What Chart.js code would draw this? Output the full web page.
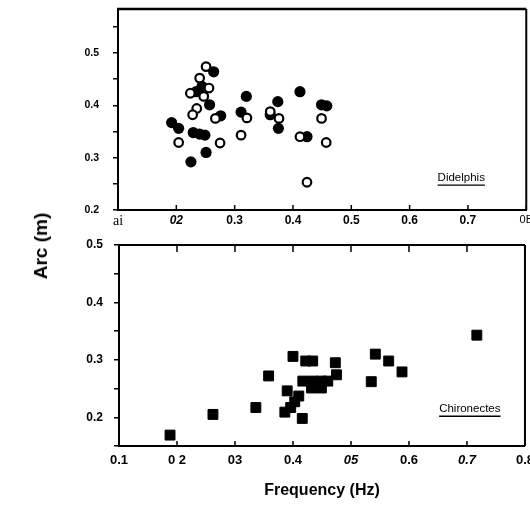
<!DOCTYPE html>
<html><head><meta charset="utf-8">
<script src="https://cdn.jsdelivr.net/npm/chart.js@4"></script>
<style>
html,body{margin:0;padding:0;background:#fff;}
#wrap{position:relative;width:530px;height:508px;overflow:hidden;}
#top{position:absolute;left:0;top:0;}
#bot{position:absolute;left:0;top:232px;}
#ylab{position:absolute;left:41px;top:246px;transform:translate(-50%,-50%) rotate(-90deg);
  font:bold 19px "Liberation Sans",Arial,sans-serif;white-space:nowrap;color:#000;}
</style></head>
<body><div id="wrap">
<!-- canvases are a bit wider than the window: the last tick label's overhang eats the extra -->
<canvas id="top" width="536" height="232"></canvas>
<canvas id="bot" width="541" height="276"></canvas>
<div id="ylab">Arc (m)</div>
</div>
<script>
// Didelphis - filled / open circles
const didFillX = [0.264,0.234,0.244,0.257,0.276,0.320,0.311,0.192,0.204,0.229,0.240,0.249,0.251,0.225,0.412,0.374,0.361,0.375,0.449,0.458,0.424];
const didFillY = [0.464,0.426,0.436,0.401,0.380,0.417,0.387,0.367,0.356,0.348,0.345,0.343,0.310,0.292,0.426,0.407,0.382,0.356,0.401,0.399,0.340];
const didOpenX = [0.251,0.240,0.224,0.256,0.247,0.235,0.228,0.267,0.321,0.311,0.204,0.275,0.361,0.376,0.412,0.449,0.457,0.424];
const didOpenY = [0.474,0.452,0.423,0.433,0.417,0.394,0.382,0.375,0.376,0.343,0.329,0.328,0.388,0.375,0.340,0.375,0.329,0.253];
// Chironectes - squares
const chiX = [0.188,0.262,0.336,0.358,0.400,0.390,0.386,0.396,0.403,0.410,0.416,0.422,0.434,0.417,0.434,0.449,0.460,0.432,0.449,0.473,0.475,0.535,0.542,0.565,0.588,0.717];
const chiY = [0.169,0.205,0.217,0.272,0.306,0.246,0.209,0.217,0.227,0.237,0.198,0.298,0.298,0.263,0.263,0.263,0.263,0.251,0.251,0.295,0.274,0.262,0.310,0.298,0.279,0.343];

// ticks
const xTicks = [0.1,0.2,0.3,0.4,0.5,0.6,0.7,0.8];
const topXLabels = ["ai","02","0.3","0.4","0.5","0.6","0.7","0B"];
const botXLabels = ["0.1","0 2","03","0.4","05","0.6","0.7","0.8"];
const topYTicks = [0.2,0.25,0.3,0.35,0.4,0.45,0.5,0.55];
const topYLabels = ["0.2","","0.3","","0.4","","0.5",""];
const botYTicks = [0.15,0.2,0.25,0.3,0.35,0.4,0.45,0.5];
const botYLabels = ["","0.2","","0.3","","0.4","","0.5"];

const SANS = '"Liberation Sans", Arial, sans-serif';
const pts = (xs,ys)=>xs.map((x,i)=>({x, y:ys[i]}));

// inner x ticks, frame top/right, species label
const frame = {
  id:"frame",
  afterDraw(chart, args, o){
    const {ctx, chartArea:a, scales:{x}} = chart;
    ctx.save();
    ctx.strokeStyle="#000"; ctx.lineWidth=1.5;
    ctx.beginPath();
    x.ticks.forEach(t=>{
      const px = x.getPixelForValue(t.value);
      ctx.moveTo(px, a.bottom); ctx.lineTo(px, a.bottom-5);
      if(o.topTicks){ ctx.moveTo(px, a.top); ctx.lineTo(px, a.top+7); }
    });
    ctx.stroke();
    ctx.lineWidth = o.topWidth;
    ctx.beginPath(); ctx.moveTo(a.left-1, a.top); ctx.lineTo(a.right, a.top); ctx.stroke();
    ctx.lineWidth = 2;
    ctx.beginPath(); ctx.moveTo(a.right, a.top); ctx.lineTo(a.right, a.bottom); ctx.stroke();
    // species name
    const lx = x.getPixelForValue(o.lx), ly = chart.scales.y.getPixelForValue(o.ly);
    ctx.font = "11.5px " + SANS; ctx.fillStyle="#000"; ctx.textBaseline="middle";
    ctx.fillText(o.text, lx, ly);
    const w = ctx.measureText(o.text).width;
    ctx.lineWidth=1.3; ctx.beginPath(); ctx.moveTo(lx, ly+7); ctx.lineTo(lx+w, ly+7); ctx.stroke();
    ctx.restore();
  }
};

function xScale(labels, fontFn, pad, height){
  return {
    type:"linear", min:0.1, max:0.8,
    afterBuildTicks: s => { s.ticks = xTicks.map(v=>({value:v})); },
    afterFit: s => { s.height = height; },
    grid:{display:false, drawTicks:false},
    border:{display:true, color:"#000", width:2},
    ticks:{ color:"#000", padding:pad, maxRotation:0, autoSkip:false,
      callback:(v,i)=>labels[i], font: c => fontFn(c.index) }
  };
}
function yScale(min, max, vals, labels, size, pad){
  return {
    type:"linear", min, max,
    afterBuildTicks: s => { s.ticks = vals.map(v=>({value:v})); },
    afterFit: s => { s.width = 118; s.paddingTop = 0; s.paddingBottom = 0; },
    grid:{display:true, drawOnChartArea:false, drawTicks:true, tickLength:5, color:"#000", lineWidth:1.5},
    border:{display:true, color:"#000", width:2},
    ticks:{ color:"#000", padding:pad, autoSkip:false,
      callback:(v,i)=>labels[i], font:{family:SANS, size, weight:"bold"} }
  };
}

const base = {
  responsive:false, animation:false, events:[],
  plugins:{legend:{display:false}, tooltip:{enabled:false}}
};

new Chart(document.getElementById("top"), {
  type:"scatter",
  data:{ datasets:[
    { data:pts(didOpenX,didOpenY), order:0, pointStyle:"circle", pointRadius:4.3,
      borderWidth:2.2, borderColor:"#000", backgroundColor:"#fff" },
    { data:pts(didFillX,didFillY), order:1, pointStyle:"circle", pointRadius:5.6,
      borderWidth:0, borderColor:"#000", backgroundColor:"#000" }
  ]},
  options:{ ...base,
    layout:{padding:{top:9, right:0, left:0, bottom:0}},
    scales:{
      x: xScale(topXLabels, i => i===0 ? {family:'"Liberation Serif", serif', size:14}
          : i===7 ? {family:SANS, size:11}
          : {family:SANS, size:12, weight:"bold", style: i===1 ? "italic" : "normal"}, 3, 22),
      y: yScale(0.2, 0.584, topYTicks, topYLabels, 10.5, 14)
    },
    plugins:{ ...base.plugins, frame:{topTicks:false, topWidth:2.5, text:"Didelphis", lx:0.648, ly:0.261} }
  },
  plugins:[frame]
});

new Chart(document.getElementById("bot"), {
  type:"scatter",
  data:{ datasets:[
    { data:pts(chiX,chiY), pointStyle:"rect", pointRadius:7, borderWidth:1,
      borderColor:"#000", backgroundColor:"#000" }
  ]},
  options:{ ...base,
    layout:{padding:{top:13, right:0, left:1, bottom:0}},
    scales:{
      x: { ...xScale(botXLabels, i => ({family:SANS, size:13, weight:"bold",
              style: (i===4 || i===6) ? "italic" : "normal"}), 7, 62),
           title:{display:true, text:"Frequency (Hz)", color:"#000",
              font:{family:SANS, size:16, weight:"bold"}, padding:{top:0, bottom:8}} },
      y: yScale(0.15, 0.5, botYTicks, botYLabels, 12, 11)
    },
    plugins:{ ...base.plugins, frame:{topTicks:true, topWidth:2, text:"Chironectes", lx:0.652, ly:0.214} }
  },
  plugins:[frame]
});
</script>
</body></html>
